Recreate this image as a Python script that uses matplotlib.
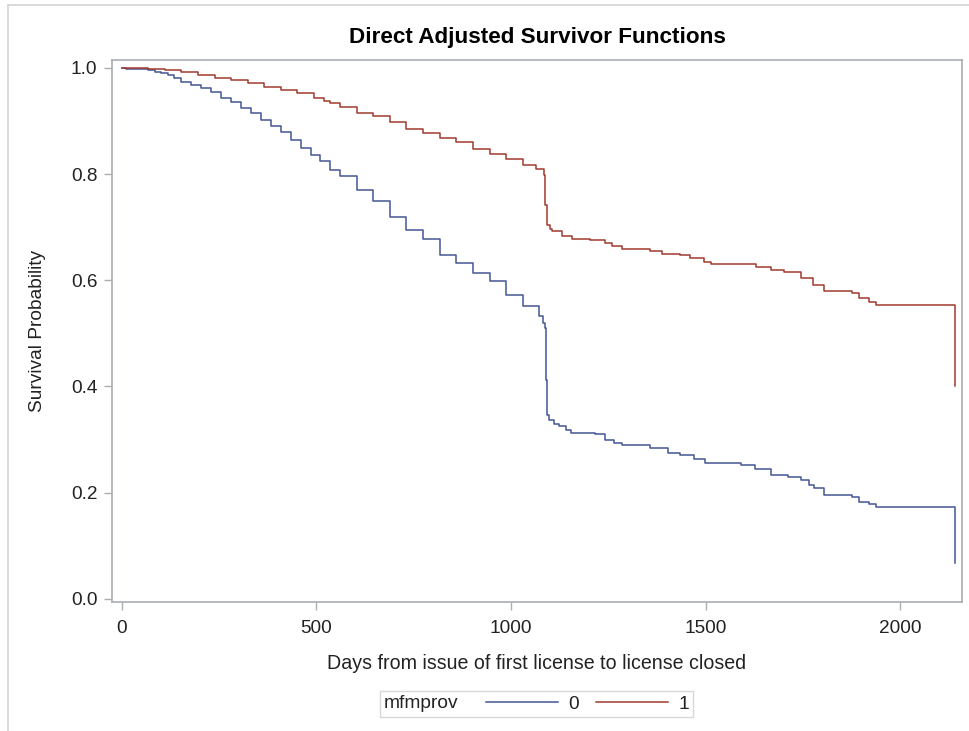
import matplotlib
matplotlib.use("Agg")
import matplotlib.pyplot as plt
from matplotlib.lines import Line2D
from matplotlib.offsetbox import HPacker

plt.rcParams['font.family'] = ['Liberation Sans', 'DejaVu Sans']

# adjusted survival estimates (day, probability)
days_0 = [0, 10, 67, 84, 101, 118, 135, 152, 178, 204, 229, 255, 280, 306,
          331, 357, 382, 408, 434, 459, 485, 510, 536, 561, 604, 646, 689,
          731, 774, 817, 859, 902, 945, 987, 1030, 1072, 1081, 1088, 1090,
          1092, 1098, 1110, 1123, 1140, 1153, 1217, 1242, 1265, 1285, 1357,
          1404, 1434, 1470, 1498, 1592, 1626, 1668, 1711, 1745, 1765, 1779,
          1805, 1877, 1894, 1920, 1939, 2141]
surv_0 = [1.0, 0.998, 0.996, 0.993, 0.990, 0.986, 0.981, 0.974, 0.968, 0.962,
          0.954, 0.944, 0.936, 0.925, 0.915, 0.902, 0.890, 0.879, 0.865, 0.849,
          0.836, 0.825, 0.808, 0.796, 0.771, 0.749, 0.720, 0.695, 0.677, 0.648,
          0.633, 0.614, 0.598, 0.573, 0.551, 0.533, 0.520, 0.511, 0.412, 0.347,
          0.337, 0.330, 0.326, 0.318, 0.313, 0.310, 0.299, 0.294, 0.290, 0.284,
          0.274, 0.271, 0.263, 0.256, 0.252, 0.244, 0.234, 0.230, 0.224, 0.214,
          0.208, 0.196, 0.191, 0.182, 0.178, 0.173, 0.067]

days_1 = [0, 66, 110, 152, 195, 238, 280, 323, 365, 408, 450, 493, 519, 536,
          561, 604, 646, 689, 731, 774, 817, 859, 902, 945, 987, 1030, 1064,
          1085, 1088, 1093, 1100, 1106, 1130, 1157, 1203, 1242, 1260, 1285,
          1357, 1387, 1433, 1460, 1497, 1515, 1630, 1668, 1702, 1745, 1775,
          1805, 1877, 1894, 1920, 1939, 2141]
surv_1 = [1.0, 0.998, 0.996, 0.992, 0.987, 0.982, 0.977, 0.971, 0.965, 0.959,
          0.952, 0.944, 0.937, 0.934, 0.927, 0.915, 0.909, 0.899, 0.885, 0.877,
          0.868, 0.860, 0.847, 0.838, 0.828, 0.818, 0.810, 0.798, 0.742, 0.704,
          0.697, 0.692, 0.684, 0.677, 0.676, 0.670, 0.664, 0.659, 0.656, 0.649,
          0.648, 0.642, 0.635, 0.631, 0.626, 0.620, 0.615, 0.604, 0.591, 0.579,
          0.576, 0.566, 0.560, 0.554, 0.400]

group_labels = ['0', '1']
group_colors = ['#445694', '#A23A2E']

x_ticks = [0, 500, 1000, 1500, 2000]
y_ticks = [0.0, 0.2, 0.4, 0.6, 0.8, 1.0]

fig = plt.figure(figsize=(9.69, 7.31), dpi=100)
ax = fig.add_axes([112 / 969, 1 - 602 / 731, 850 / 969, 542 / 731])

axis_gray = '#a9aeb3'
txt_c = '#222222'
ax.step(days_0, surv_0, where='post', color=group_colors[0], lw=1.1, label=group_labels[0])
ax.step(days_1, surv_1, where='post', color=group_colors[1], lw=1.1, label=group_labels[1])

ax.set_xlim(-25.5, 2159)
ax.set_ylim(-0.006, 1.015)
ax.set_xticks(x_ticks)
ax.set_yticks(y_ticks)
ax.set_yticklabels([f'{v:.1f}' for v in y_ticks])
for s in ax.spines.values():
    s.set_color(axis_gray)
    s.set_linewidth(1.2)
ax.tick_params(direction='out', length=6, width=1, color=axis_gray,
               labelsize=13.7, labelcolor=txt_c, pad=4.5)
ax.tick_params(axis='x', pad=7)

ax.set_title('Direct Adjusted Survivor Functions', fontsize=16.2,
             fontweight='bold', pad=12.5)
ax.set_xlabel('Days from issue of first license to license closed',
              fontsize=14.1, color=txt_c, labelpad=12)
ax.set_ylabel('Survival Probability', fontsize=13.8, color=txt_c, labelpad=18)

handles = [Line2D([], [], color=c, lw=1.1) for c in group_colors]
leg = fig.legend(handles, group_labels, title='mfmprov', ncol=2,
                 loc='center', bbox_to_anchor=(536.5 / 969, 1 - 704 / 731),
                 fontsize=13.8, title_fontsize=13.8, frameon=True, fancybox=False,
                 edgecolor='#cfcfcf', handlelength=3.75, handletextpad=0.55,
                 columnspacing=0.9, borderpad=0.2, borderaxespad=0)
leg.get_frame().set_linewidth(1.0)
for t in leg.get_texts() + [leg.get_title()]:
    t.set_color(txt_c)
# put the legend title on the left of the entries, as in SAS
box = HPacker(pad=leg._legend_box.pad, sep=20, align='center',
              children=[leg._legend_title_box, leg._legend_handle_box])
box.set_figure(fig)
box.set_offset(leg._findoffset)
leg._legend_box = box

# outer graph frame
frame_c = '#d4d4d4'
fig.add_artist(Line2D([8 / 969, 8 / 969], [0, 1 - 5 / 731], color=frame_c, lw=1.2))
fig.add_artist(Line2D([8 / 969, 1], [1 - 5 / 731, 1 - 5 / 731], color=frame_c, lw=1.2))

fig.savefig('out.png', dpi=100)
